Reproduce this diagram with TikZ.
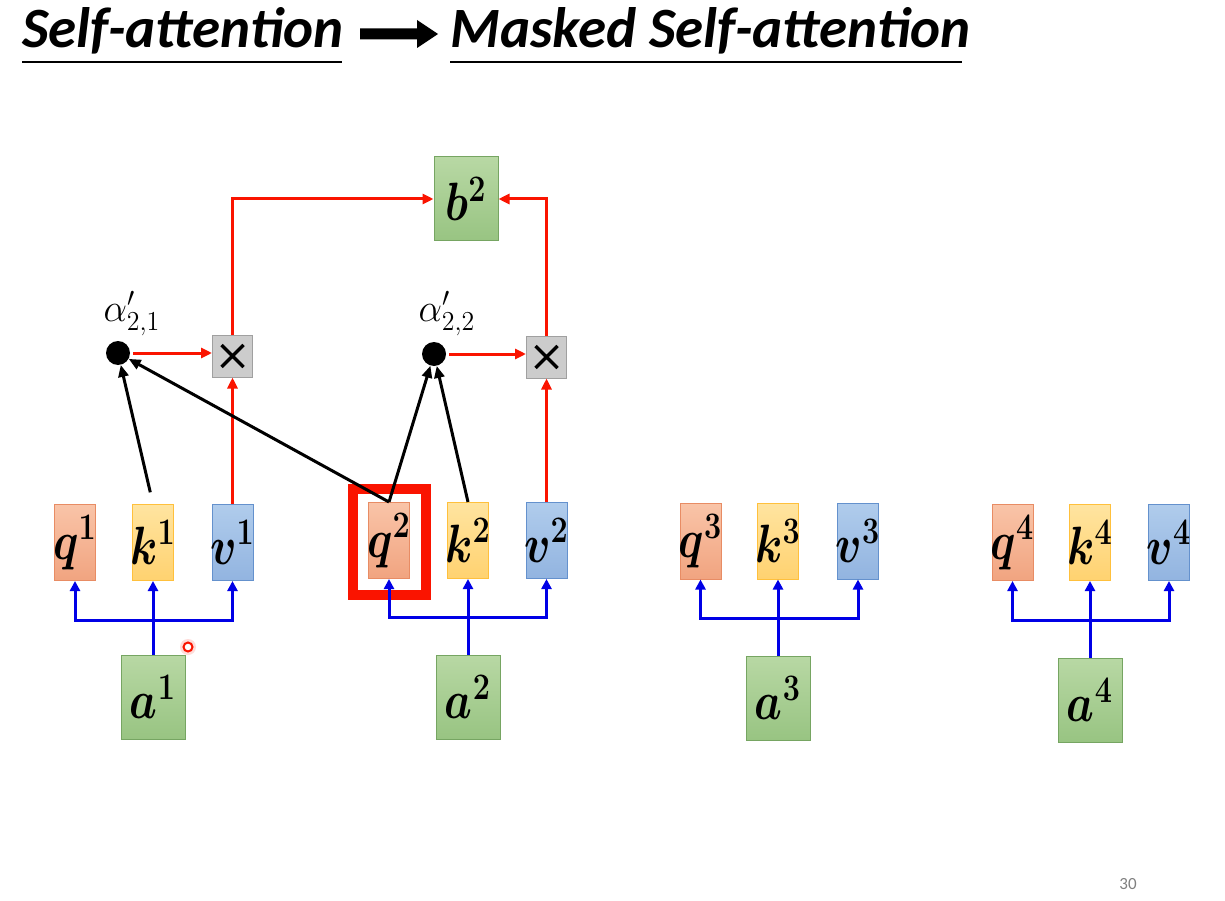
\RequirePackage{fix-cm}
\documentclass[tikz,border=0pt]{standalone}
\usepackage{fontspec}
\usepackage{amsmath}
\newfontfamily\titlefont{Carlito}
\usetikzlibrary{arrows.meta}
\definecolor{qtop}{RGB}{249,196,168}
\definecolor{qbot}{RGB}{241,164,128}
\definecolor{qborder}{RGB}{232,140,100}
\definecolor{ktop}{RGB}{255,228,160}
\definecolor{kbot}{RGB}{255,210,112}
\definecolor{kborder}{RGB}{255,192,60}
\definecolor{vtop}{RGB}{176,204,236}
\definecolor{vbot}{RGB}{146,180,224}
\definecolor{vborder}{RGB}{100,145,205}
\definecolor{gtop}{RGB}{184,216,164}
\definecolor{gbot}{RGB}{152,196,130}
\definecolor{gborder}{RGB}{118,165,98}
\definecolor{xfill}{RGB}{204,204,204}
\definecolor{xborder}{RGB}{160,160,160}
\definecolor{lred}{RGB}{250,20,0}
\definecolor{lblue}{RGB}{0,0,230}
\newcommand{\boxfont}{\fontsize{20.74}{25}\selectfont\boldmath}
\newcommand{\bx}[1]{\makebox[0pt]{\scalebox{2.12}[2.6]{$#1$}}}
\newcommand{\alx}[1]{\scalebox{1.8}[1.9]{$#1$}}
\begin{document}
\begin{tikzpicture}[x=1pt,y=-1pt,
  vec/.style={line width=1pt, minimum width=41pt, minimum height=76pt, inner sep=0pt, font=\boxfont},
  qbox/.style={vec, draw=qborder, top color=qtop, bottom color=qbot},
  kbox/.style={vec, draw=kborder, top color=ktop, bottom color=kbot},
  vbox/.style={vec, draw=vborder, top color=vtop, bottom color=vbot},
  gbox/.style={vec, draw=gborder, top color=gtop, bottom color=gbot, minimum width=64pt, minimum height=84pt},
  mulbox/.style={draw=xborder, fill=xfill, line width=1pt, minimum width=40pt, minimum height=42pt, inner sep=0pt,
    path picture={\draw[black, line width=3.5pt]
      ([shift={(-11pt,-11pt)}]path picture bounding box.center) -- ([shift={(11pt,11pt)}]path picture bounding box.center)
      ([shift={(-11pt,11pt)}]path picture bounding box.center) -- ([shift={(11pt,-11pt)}]path picture bounding box.center);}},
  dotnode/.style={circle, fill=black, minimum size=24pt, inner sep=0pt},
  bl/.style={draw=lblue, line width=3pt, -{Triangle[length=10pt,width=10pt]}},
  rd/.style={draw=lred, line width=3pt, -{Triangle[length=11pt,width=10pt]}},
  bk/.style={draw=black, line width=3pt, -{Triangle[length=12pt,width=10pt]}},
  alab/.style={font=\fontsize{20.74}{25}\selectfont, inner sep=0pt},
  titletext/.style={font=\titlefont\bfseries\itshape\fontsize{57}{66}\selectfont, inner sep=0pt, anchor=base west},
]
\useasboundingbox[fill=white] (0,0) rectangle (1225,901);

% title
\node[titletext] (t1) at (22,48) {Self-attention};
\node[titletext] (t2) at (450,48) {Masked Self-attention};
\draw[line width=2pt] (22,62) -- (342,62);
\draw[line width=2pt] (450,62) -- (962,62);
\fill (360,28.5) -- (417,28.5) -- (417,20) -- (438,34) -- (417,48) -- (417,39.5) -- (360,39.5) -- cycle;

% b2
\node[gbox] (b2) at (466,199) {\bx{b^{2}}};

% multiply boxes and dots
\node[mulbox] (x1) at (232.5,356) {};
\node[mulbox] (x2) at (546.5,357) {};
\node[dotnode] (d1) at (118,353) {};
\node[dotnode] (d2) at (434,354) {};
\node[alab] (l1) at (132,314) {\alx{\alpha'_{2,1}}};
\node[alab] (l2) at (447,314) {\alx{\alpha'_{2,2}}};

% vectors
\node[qbox] (q1) at (75,542.5) {\bx{q^{1}}};
\node[kbox] (k1) at (153,542.5) {\bx{k^{1}}};
\node[vbox] (v1) at (232.5,542.5) {\bx{v^{1}}};
\node[qbox] (q2) at (389,540.5) {\bx{q^{2}}};
\node[kbox] (k2) at (468,540.5) {\bx{k^{2}}};
\node[vbox] (v2) at (546.5,540.5) {\bx{v^{2}}};
\node[qbox] (q3) at (700.5,541) {\bx{q^{3}}};
\node[kbox] (k3) at (778,541) {\bx{k^{3}}};
\node[vbox] (v3) at (858,541) {\bx{v^{3}}};
\node[qbox] (q4) at (1012.5,542.5) {\bx{q^{4}}};
\node[kbox] (k4) at (1090,542.5) {\bx{k^{4}}};
\node[vbox] (v4) at (1169,542.5) {\bx{v^{4}}};

% inputs
\node[gbox] (a1) at (153,697) {\bx{a^{1}}};
\node[gbox] (a2) at (468,697) {\bx{a^{2}}};
\node[gbox] (a3) at (778,698) {\bx{a^{3}}};
\node[gbox] (a4) at (1090,700) {\bx{a^{4}}};

% highlight around q2
\node[draw=lred, line width=10pt, minimum width=73pt, minimum height=106pt, inner sep=0pt] (hl) at (389.5,542) {};

% blue connectors
\coordinate (h1) at (153,620);
\coordinate (h2) at (468,617);
\coordinate (h3) at (778,618);
\coordinate (h4) at (1090,620);
\foreach \i in {1,2,3,4}{
  \draw[bl] (a\i.north) -- (k\i.south);
  \draw[bl] (h\i) -| (q\i.south);
  \draw[bl] (h\i) -| (v\i.south);
}

% red connectors
\draw[rd] (v1.north) -- (x1.south);
\draw[rd] (v2.north) -- (x2.south);
\draw[rd] (x1.north) |- (b2.west);
\draw[rd] (x2.north) |- (b2.east);
\draw[rd, shorten <=3pt] (d1) -- (d1 -| x1.west);
\draw[rd, shorten <=3pt] (d2) -- (d2 -| x2.west);

% black connectors
\draw[bk, shorten <=12pt] (k1.north) -- (d1);
\draw[bk] (q2.north) -- (d1);
\draw[bk] (q2.north) -- (d2);
\draw[bk] (k2.north) -- (d2);

% pointer mark
\node[circle, fill=lred!15, minimum size=16pt, inner sep=0pt] (ptrglow) at (188,647) {};
\node[circle, draw=lred, fill=white, line width=2pt, minimum size=9pt, inner sep=0pt] (ptr) at (188,647) {};

% page number
\node[font=\titlefont\fontsize{17}{20}\selectfont, text=gray] (pg) at (1128,884) {30};
\end{tikzpicture}
\end{document}
